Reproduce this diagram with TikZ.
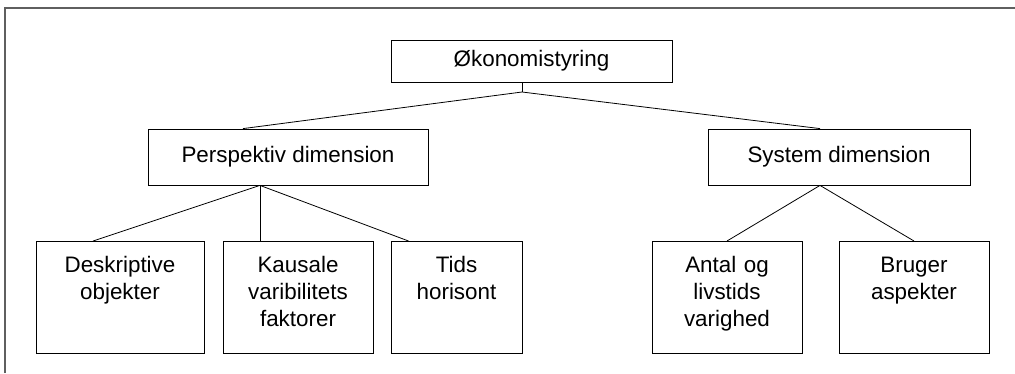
\documentclass[tikz,border=0pt]{standalone}
\usepackage{fontspec}
\setmainfont{Liberation Sans}
\usepackage{tikz}
\usetikzlibrary{calc, positioning}
\definecolor{framegray}{HTML}{5F5F5F}
\tikzset{
    framelines/.style = {draw=framegray, line width=1.6pt},
    boxnode/.style = {draw, rectangle, inner sep=0em, line width=0.8pt,
      font=\fontsize{22.4}{27}\selectfont},
    leafnode/.style = {draw, rectangle, anchor=north, line width=0.8pt,
      minimum height=112pt, inner xsep=0pt, inner ysep=15pt,
      text height=16pt, text depth=66pt, align=center,
      font=\fontsize{22.4}{27}\selectfont},
    connect/.style = {black, line width=0.8pt}
}

\begin{document}
\begin{tikzpicture}[x=1pt, y=-1pt]
    \useasboundingbox (0,0) rectangle (1015,373);
    \draw [framelines] (5,373) -- (5,8) -- (1015,8);

    \node [name=oko, boxnode, minimum width=281pt, minimum height=42pt] at (531.5,61) {Økonomistyring};

    \node [name=persp, boxnode, minimum width=280pt, minimum height=56pt] at (288,157) {Perspektiv dimension};
    \node [name=system, boxnode, minimum width=262pt, minimum height=56pt] at (839,157) {System dimension};

    \node [name=desk, leafnode, minimum width=168pt, text width=168pt] at (120,241) {Deskriptive\\objekter};
    \node [name=kaus, leafnode, minimum width=150pt, text width=150pt] at (298,241) {Kausale\\varibilitets\\faktorer};
    \node [name=tids, leafnode, minimum width=131pt, text width=131pt] at (456.5,241) {Tids\\horisont};

    \node [name=antal, leafnode, minimum width=150pt, text width=150pt] at (727,241) {Antal og\\livstids\\varighed};
    \node [name=bruger, leafnode, minimum width=150pt, text width=150pt] at (914,241) {Bruger\\aspekter};

    % forks
    \coordinate (okofork) at (522,92);
    \coordinate (perspfork) at ([xshift=-28pt]persp.south);
    \coordinate (systemfork) at ([xshift=-19pt]system.south);

    \draw [connect] (oko.south -| okofork) -- (okofork);
    \draw [connect] (okofork) -- ([xshift=-45pt]persp.north);
    \draw [connect] (okofork) -- ([xshift=-19pt]system.north);

    \draw [connect] (perspfork) -- ([xshift=-27pt]desk.north);
    \draw [connect] (perspfork) -- (kaus.north -| perspfork);
    \draw [connect] (perspfork) -- ([xshift=-48pt]tids.north);

    \draw [connect] (systemfork) -- (antal.north);
    \draw [connect] (systemfork) -- (bruger.north);
\end{tikzpicture}
\end{document}
